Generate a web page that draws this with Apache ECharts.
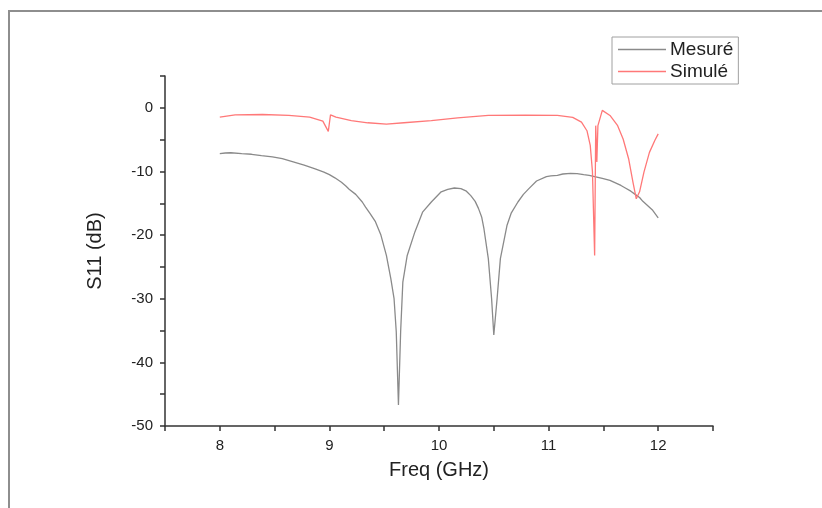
<!DOCTYPE html>
<html>
<head>
<meta charset="utf-8">
<script src="https://cdn.jsdelivr.net/npm/echarts@6/dist/echarts.min.js"></script>
<style>
  html, body { margin: 0; padding: 0; background: #fff; }
  #wrap { position: relative; width: 822px; height: 508px; overflow: hidden; }
  #chart { position: absolute; left: 0; top: 0; width: 822px; height: 508px; }
  #frame { position: absolute; left: 8px; top: 10px; width: 830px; height: 520px;
           border-left: 2px solid #8e8e8e; border-top: 2px solid #8e8e8e; pointer-events: none; }
</style>
</head>
<body>
<div id="wrap">
  <div id="chart"></div>
  <div id="frame"></div>
</div>
<script>
// Measured S11 (GHz, dB)
const freqMes = [8.0, 8.05, 8.1, 8.2, 8.29, 8.38, 8.48, 8.57, 8.67, 8.77, 8.87, 8.95, 9.0, 9.05, 9.11, 9.15, 9.18, 9.24, 9.3, 9.33, 9.37, 9.42, 9.47, 9.52, 9.56, 9.59, 9.61, 9.63, 9.65, 9.67, 9.71, 9.78, 9.85, 9.93, 10.02, 10.08, 10.14, 10.2, 10.25, 10.29, 10.33, 10.36, 10.39, 10.41, 10.45, 10.48, 10.5, 10.53, 10.56, 10.62, 10.66, 10.72, 10.77, 10.82, 10.89, 10.98, 11.02, 11.08, 11.13, 11.2, 11.26, 11.32, 11.37, 11.42, 11.49, 11.56, 11.61, 11.66, 11.7, 11.75, 11.79, 11.83, 11.86, 11.9, 11.95, 12.0];
const s11Mes  = [-7.2, -7.1, -7.06, -7.2, -7.3, -7.5, -7.7, -8.0, -8.5, -9.0, -9.6, -10.1, -10.5, -11.0, -11.7, -12.3, -12.8, -13.6, -14.8, -15.6, -16.6, -17.9, -20.0, -23.2, -26.8, -30.0, -35.2, -46.7, -35.2, -27.4, -23.2, -19.5, -16.4, -14.8, -13.2, -12.8, -12.6, -12.7, -13.1, -13.8, -14.7, -15.8, -17.2, -19.0, -23.7, -30.0, -35.7, -30.0, -23.7, -18.5, -16.5, -14.8, -13.6, -12.7, -11.5, -10.8, -10.7, -10.6, -10.4, -10.3, -10.35, -10.5, -10.6, -10.8, -11.1, -11.4, -11.8, -12.2, -12.6, -13.1, -13.6, -14.1, -14.7, -15.3, -16.1, -17.3];

// Simulated S11 (GHz, dB)
const freqSim = [8.0, 8.14, 8.39, 8.63, 8.82, 8.94, 8.99, 9.01, 9.06, 9.2, 9.35, 9.52, 9.68, 9.93, 10.17, 10.45, 10.79, 11.08, 11.22, 11.3, 11.35, 11.38, 11.4, 11.42, 11.43, 11.44, 11.45, 11.49, 11.56, 11.63, 11.68, 11.73, 11.77, 11.8, 11.83, 11.87, 11.92, 11.97, 12.0];
const s11Sim  = [-1.46, -1.1, -1.05, -1.2, -1.46, -2.1, -3.7, -1.1, -1.46, -2.0, -2.35, -2.56, -2.35, -2.0, -1.57, -1.2, -1.15, -1.2, -1.5, -2.25, -3.6, -5.9, -10.0, -23.2, -2.8, -8.5, -2.8, -0.4, -1.2, -2.8, -4.9, -8.0, -11.7, -14.3, -13.2, -10.1, -7.0, -5.1, -4.1];

const seriesNames = ['Mesuré', 'Simulé'];
const xTickLabels = [8, 9, 10, 11, 12];
const yTickLabels = [-50, -40, -30, -20, -10, 0];

const pairs = (xs, ys) => xs.map((x, i) => [x, ys[i]]);

const chart = echarts.init(document.getElementById('chart'), null, { renderer: 'canvas' });
const axisFont = 'Arial, "Liberation Sans", sans-serif';

chart.setOption({
  animation: false,
  backgroundColor: '#fff',
  grid: { left: 165, right: 109, top: 76, bottom: 82 },
  legend: {
    data: seriesNames,
    orient: 'vertical',
    left: 612,
    top: 37,
    icon: 'rect',
    itemWidth: 48,
    itemHeight: 1.5,
    itemGap: 3,
    padding: [3, 5, 3, 6],
    borderColor: '#a0a0a0',
    borderWidth: 1,
    textStyle: { fontFamily: axisFont, fontSize: 19, color: '#222', padding: [0, 0, 0, -1] }
  },
  xAxis: {
    type: 'value',
    min: 7.5,
    max: 12.5,
    interval: 0.5,
    name: 'Freq (GHz)',
    nameLocation: 'middle',
    nameGap: 34,
    nameTextStyle: { fontFamily: axisFont, fontSize: 20, color: '#222' },
    axisLine: { onZero: false, lineStyle: { color: '#333', width: 1.5 } },
    axisTick: { show: true, inside: false, length: 5, lineStyle: { color: '#333', width: 1.5 } },
    axisLabel: {
      fontFamily: axisFont, fontSize: 15, color: '#222', margin: 12,
      formatter: v => (xTickLabels.includes(v) ? String(v) : '')
    },
    splitLine: { show: false }
  },
  yAxis: {
    type: 'value',
    min: -50,
    max: 5,
    interval: 5,
    name: 'S11 (dB)',
    nameLocation: 'middle',
    nameGap: 60,
    nameTextStyle: { fontFamily: axisFont, fontSize: 20, color: '#222' },
    axisLine: { show: true, onZero: false, lineStyle: { color: '#333', width: 1.5 } },
    axisTick: { show: true, inside: false, length: 5, lineStyle: { color: '#333', width: 1.5 } },
    axisLabel: {
      fontFamily: axisFont, fontSize: 15, color: '#222', margin: 12,
      formatter: v => (yTickLabels.includes(v) ? String(v) : '')
    },
    splitLine: { show: false }
  },
  series: [
    {
      name: seriesNames[0],
      type: 'line',
      data: pairs(freqMes, s11Mes),
      showSymbol: false,
      symbol: 'none',
      color: '#8a8a8a',
      lineStyle: { color: '#8a8a8a', width: 1.3 }
    },
    {
      name: seriesNames[1],
      type: 'line',
      data: pairs(freqSim, s11Sim),
      showSymbol: false,
      symbol: 'none',
      color: '#ff7878',
      lineStyle: { color: '#ff7878', width: 1.3 }
    }
  ]
});
</script>
</body>
</html>
